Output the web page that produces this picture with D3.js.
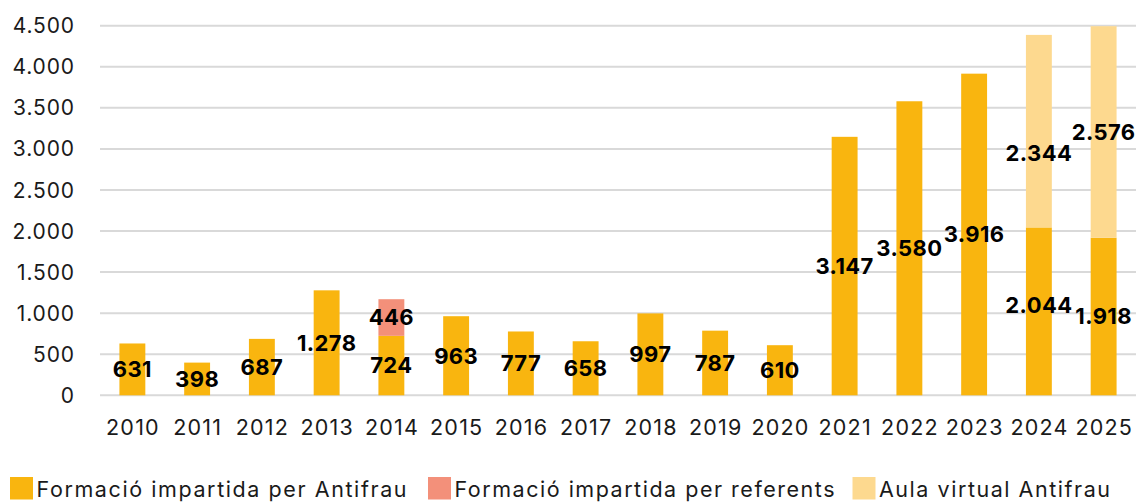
<!DOCTYPE html>
<html><head><meta charset="utf-8">
<script src="https://cdn.jsdelivr.net/npm/d3@7"></script>
<style>html,body{margin:0;padding:0;background:#fff;}svg{display:block;font-family:Inter,"Noto Sans",sans-serif;}</style>
</head><body>
<svg id="c" width="1137" height="502"></svg>
<script>
const years = ["2010","2011","2012","2013","2014","2015","2016","2017","2018","2019","2020","2021","2022","2023","2024","2025"];
const antifrau = [631,398,687,1278,724,963,777,658,997,787,610,3147,3580,3916,2044,1918];
const referents = [0,0,0,0,446,0,0,0,0,0,0,0,0,0,0,0];
const aulaVirtual = [0,0,0,0,0,0,0,0,0,0,0,0,0,0,2344,2576];
const seriesNames = ["Formació impartida per Antifrau","Formació impartida per referents","Aula virtual Antifrau"];
const seriesColors = ["#F9B50F","#F3907A","#FDD98F"];
const yTicks = [0,500,1000,1500,2000,2500,3000,3500,4000,4500];
// small manual label nudges (as in the original), px
const labelNudge = {"2024-0": -6, "2024-2": 22};

const svg = d3.select("#c");
const m = {l:100, r:1};
const W = 1137;
const x = d3.scaleBand().domain(years).range([m.l, W - m.r]).paddingInner(0.6).paddingOuter(0.3);
const y = d3.scaleLinear().domain([0,4500]).range([395.3, 25.7]);
const loc = d3.formatLocale({decimal:",", thousands:".", grouping:[3], currency:["","€"]});
const fmt = loc.format(",d");

// gridlines
svg.append("g").selectAll("line").data(yTicks).join("line")
  .attr("x1", m.l).attr("x2", W - m.r)
  .attr("y1", d => y(d)).attr("y2", d => y(d))
  .attr("stroke", "#D9D9D9").attr("stroke-width", 2);

// y labels
svg.append("g").selectAll("text").data(yTicks).join("text")
  .attr("x", 75).attr("y", d => y(d)).attr("dy", "0.36em")
  .attr("text-anchor", "end").attr("font-size", 21).attr("letter-spacing", 0.9).attr("fill", "#1a1a1a")
  .text(d => fmt(d));

// x labels
svg.append("g").selectAll("text").data(years).join("text")
  .attr("x", d => x(d) + x.bandwidth()/2 + 0.6).attr("y", 434.5)
  .attr("text-anchor", "middle").attr("font-size", 21.5).attr("letter-spacing", 1.2).attr("fill", "#1a1a1a")
  .text(d => d);

const table = years.map((yr, i) => ({year: yr, s0: antifrau[i], s1: referents[i], s2: aulaVirtual[i]}));
const stack = d3.stack().keys(["s0","s1","s2"])(table);

const gBars = svg.append("g");
stack.forEach((layer, k) => {
  gBars.append("g").attr("fill", seriesColors[k]).selectAll("rect")
    .data(layer.filter(d => d[1] - d[0] > 0)).join("rect")
    .attr("x", d => x(d.data.year)).attr("width", x.bandwidth())
    .attr("y", d => y(d[1])).attr("height", d => y(d[0]) - y(d[1]));
});

const gLab = svg.append("g");
stack.forEach((layer, k) => {
  gLab.append("g").selectAll("text")
    .data(layer.filter(d => d[1] - d[0] > 0)).join("text")
    .attr("x", d => x(d.data.year) + x.bandwidth()/2)
    .attr("y", d => y((d[0] + d[1]) / 2) + (labelNudge[d.data.year + "-" + k] || 0))
    .attr("dy", "0.36em").attr("text-anchor", "middle")
    .attr("font-size", 22).attr("font-weight", 700).attr("letter-spacing", 0.4).attr("fill", "#000")
    .text(d => fmt(d[1] - d[0]));
});

// legend
const legX = [10, 428, 852.5];
const legW = [370, 380, 231];
const lg = svg.append("g");
seriesNames.forEach((n, i) => {
  lg.append("rect").attr("x", legX[i]).attr("y", 477).attr("width", 23).attr("height", 22.5).attr("fill", seriesColors[i]);
  lg.append("text").attr("x", legX[i] + 26.5).attr("y", 497).attr("font-size", 21.5)
    .attr("textLength", legW[i]).attr("lengthAdjust", "spacing").attr("fill", "#1a1a1a").text(n);
});
</script>
</body></html>
